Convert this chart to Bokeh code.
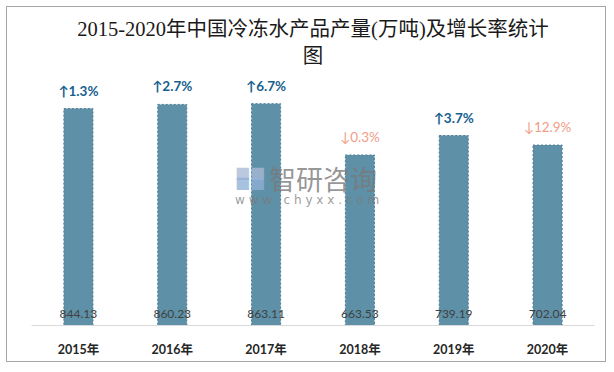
from bokeh.plotting import figure
from bokeh.models import ColumnDataSource, FactorRange, Range1d, Title
from bokeh.core.properties import value
from bokeh.embed import file_html
from bokeh.resources import INLINE

years = ["2015年", "2016年", "2017年", "2018年", "2019年", "2020年"]
output = [844.13, 860.23, 863.11, 663.53, 739.19, 702.04]
value_labels = ["844.13", "860.23", "863.11", "663.53", "739.19", "702.04"]
growth_labels = ["↑1.3%", "↑2.7%", "↑6.7%", "↓0.3%", "↑3.7%", "↓12.9%"]
growth_up = [True, True, True, False, True, False]

title_line1 = "2015-2020年中国冷冻水产品产量(万吨)及增长率统计"
title_line2 = "图"

UP_COLOR = "#17608e"
DOWN_COLOR = "#f19d86"

src = ColumnDataSource(dict(
    x=years,
    top=output,
    vlab=value_labels,
    glab=growth_labels,
    gcol=[UP_COLOR if u else DOWN_COLOR for u in growth_up],
    gsty=["bold" if u else "normal" for u in growth_up],
    zero=[0] * len(years),
))

p = figure(
    width=600, height=356,
    x_range=FactorRange(factors=years, range_padding=0),
    y_range=Range1d(0, 1000),
    output_backend="svg", toolbar_location=None,
    min_border_left=24, min_border_right=13, min_border_bottom=38, min_border_top=61,
    styles={"border": "1px solid #a6a6a6", "margin": "6px"},
)

serif = '"Liberation Serif", "Noto Sans CJK SC"'
t2 = Title(text=title_line2, align="center", text_font=serif, text_font_size="20.5px",
           text_font_style="normal", text_color="#1a1a1a", standoff=4)
t1 = Title(text=title_line1, align="center", text_font=serif, text_font_size="20.5px",
           text_font_style="normal", text_color="#1a1a1a", standoff=2)
p.title = None
p.add_layout(t2, "above")
p.add_layout(t1, "above")

p.vbar(x="x", top="top", width=0.31, source=src, fill_color="#5e90a7",
       line_color="#4d7d95", line_dash="2 2", line_width=1)

sans = '"Lato", "Noto Sans CJK SC"'
p.text(x="x", y="top", text="glab", source=src, text_color="gcol",
       text_font_style="gsty", text_font=value(sans), text_font_size="13.5px",
       text_align="center", text_baseline="middle", y_offset=-18)
p.text(x="x", y="zero", text="vlab", source=src, text_color="#404040",
       text_font=value(sans), text_font_size="12px",
       text_align="center", text_baseline="middle", y_offset=-12)

# watermark
wm = dict(text_align="center", text_baseline="middle")
p.text(x=["2017年"], y=[0], text=["智研咨询"], text_color="#7a7a7a", text_alpha=0.8,
       text_font=value("Noto Sans CJK SC"), text_font_size="27px",
       x_offset=57, y_offset=-147, **wm)
p.text(x=["2017年"], y=[0], text=["w w w . c h y x x . c o m"], text_color="#7a7a7a",
       text_alpha=0.75, text_font=value("DejaVu Sans"), text_font_size="12px",
       x_offset=41, y_offset=-126, **wm)
p.text(x=["2017年"], y=[0], text=["■■"], text_color="#a9b9d6",
       text_alpha=0.8, text_font=value("DejaVu Sans"), text_font_size="16px",
       x_offset=-16, y_offset=-153, **wm)
p.text(x=["2017年"], y=[0], text=["■■"], text_color="#8fb0d8",
       text_alpha=0.8, text_font=value("DejaVu Sans"), text_font_size="16px",
       x_offset=-16, y_offset=-143, **wm)

p.xaxis.axis_line_color = "#d9d9d9"
p.xaxis.major_tick_line_color = None
p.xaxis.minor_tick_line_color = None
p.xaxis.major_tick_out = 0
p.xaxis.major_label_standoff = 16
p.xaxis.major_label_text_font = sans
p.xaxis.major_label_text_font_style = "bold"
p.xaxis.major_label_text_font_size = "12.5px"
p.xaxis.major_label_text_color = "#262626"
p.yaxis.visible = False
p.grid.visible = False
p.outline_line_color = None

open("out.html", "w").write(file_html(p, INLINE))
